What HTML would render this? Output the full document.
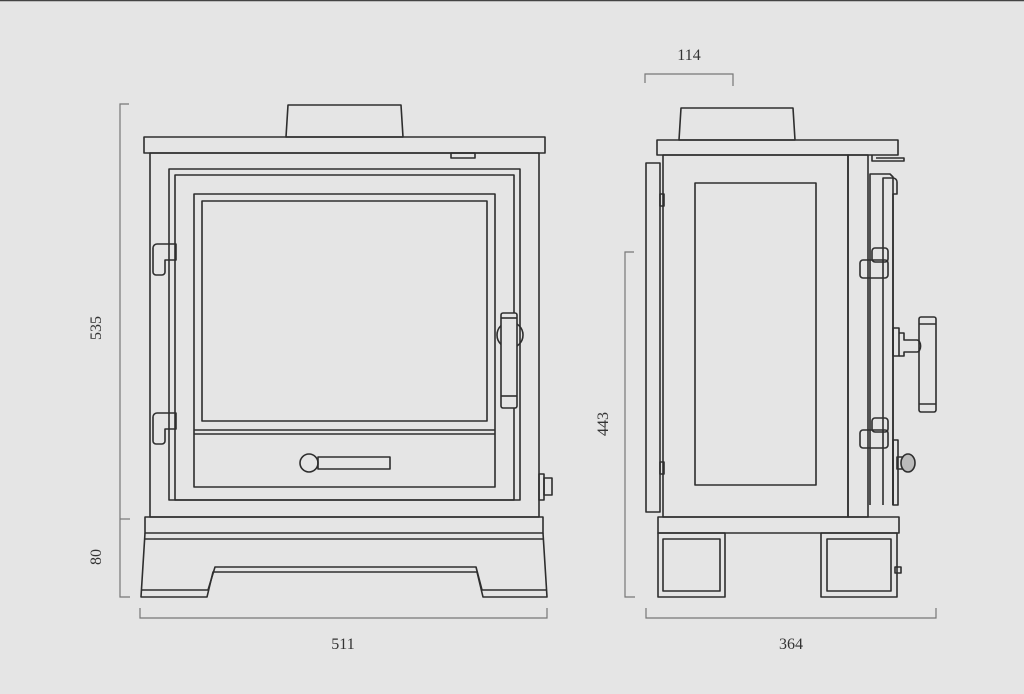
<!DOCTYPE html>
<html><head><style>
html,body{margin:0;padding:0;background:#e5e5e5;}
svg{display:block}
text{font-family:"Liberation Serif",serif;font-size:16px;fill:#333}
</style></head><body>
<svg width="1024" height="694" viewBox="0 0 1024 694" xmlns="http://www.w3.org/2000/svg">
<rect width="1024" height="694" fill="#e5e5e5"/>
<line x1="0" y1="0.5" x2="1024" y2="0.5" stroke="#444" stroke-width="1.5"/>
<g fill="none" stroke="#777" stroke-width="1.2">
<polyline points="129,104 120,104 120,597 130,597"/>
<line x1="120" y1="519" x2="130" y2="519"/>
<polyline points="140,608 140,618 547,618 547,608"/>
<polyline points="645,83 645,74 733,74 733,86"/>
<polyline points="634,252 625,252 625,597 635,597"/>
<polyline points="646,608 646,618 936,618 936,608"/>
</g>
<text x="343" y="649" text-anchor="middle">511</text>
<text x="689" y="60" text-anchor="middle">114</text>
<text x="791" y="649" text-anchor="middle">364</text>
<text transform="translate(101,328) rotate(-90)" text-anchor="middle">535</text>
<text transform="translate(101,557) rotate(-90)" text-anchor="middle">80</text>
<text transform="translate(608,424) rotate(-90)" text-anchor="middle">443</text>

<g fill="none" stroke="#2e2e2e" stroke-width="1.6" stroke-linejoin="round">
<!-- FRONT -->
<polygon points="288,105 401,105 403,137 286,137"/>
<rect x="144" y="137" width="401" height="16"/>
<rect x="451" y="153" width="24" height="5"/>
<rect x="150" y="153" width="389" height="364"/>
<rect x="169" y="169" width="351" height="331"/>
<rect x="175" y="175" width="339" height="325"/>
<rect x="194" y="194" width="301" height="293"/>
<rect x="202" y="201" width="285" height="220"/>
<line x1="194" y1="430" x2="495" y2="430"/>
<line x1="194" y1="434" x2="495" y2="434"/>
<circle cx="309" cy="463" r="9"/>
<rect x="318" y="457" width="72" height="12"/>
<path d="M176,244 H157 a4,4 0 0 0 -4,4 V272 a3,3 0 0 0 3,3 h6 a3,3 0 0 0 3,-3 V260 H176 Z"/>
<path d="M176,413 H157 a4,4 0 0 0 -4,4 V441 a3,3 0 0 0 3,3 h6 a3,3 0 0 0 3,-3 V429 H176 Z"/>
<circle cx="510" cy="335" r="13"/>
<rect x="501" y="313" width="16" height="95" rx="2" fill="#e5e5e5"/>
<line x1="501" y1="318" x2="517" y2="318"/>
<line x1="501" y1="396" x2="517" y2="396"/>
<rect x="539" y="474" width="5" height="26"/>
<rect x="544" y="478" width="8" height="17"/>
<rect x="145" y="517" width="398" height="16"/>
<line x1="145" y1="539" x2="543" y2="539"/>
<path d="M145,533 L141,597 H207 L213,572 H477 L483,597 H547 L543,533"/>
<path d="M141,590 H208 L215,567 H476 L482,590 H547"/>

<!-- SIDE -->
<polygon points="681,108 793,108 795,140 679,140"/>
<rect x="657" y="140" width="241" height="15"/>
<rect x="663" y="155" width="185" height="362"/>
<rect x="848" y="155" width="20" height="362"/>
<rect x="695" y="183" width="121" height="302"/>
<rect x="646" y="163" width="14" height="349"/>
<rect x="660" y="194" width="4" height="12"/>
<rect x="660" y="462" width="4" height="12"/>
<path d="M872,155 V161 H904 V158 H876"/>
<path d="M870,505 V174 H890 L893,177 V505"/>
<path d="M883,505 V178 H893 a4,4 0 0 1 4,4 V194 H893 V505"/>
<rect x="860" y="260" width="28" height="18" rx="3"/>
<rect x="872" y="248" width="16" height="14" rx="3"/>
<rect x="860" y="430" width="28" height="18" rx="3"/>
<rect x="872" y="418" width="16" height="14" rx="3"/>
<rect x="893" y="328" width="6" height="28"/>
<path d="M899,333 H904 V340 H917 a3,5 0 0 1 0,12 H904 V356 H899"/>
<rect x="919" y="317" width="17" height="95" rx="2"/>
<line x1="919" y1="324" x2="936" y2="324"/>
<line x1="919" y1="404" x2="936" y2="404"/>
<rect x="893" y="440" width="5" height="65"/>
<rect x="897" y="457" width="6" height="12"/>
<ellipse cx="908" cy="463" rx="7" ry="9" fill="#bbb"/>
<rect x="658" y="517" width="241" height="16"/>
<rect x="658" y="533" width="67" height="64"/>
<rect x="663" y="539" width="57" height="52"/>
<rect x="821" y="533" width="76" height="64"/>
<rect x="827" y="539" width="64" height="52"/>
<rect x="895" y="567" width="6" height="6"/>
</g>
</svg>
</body></html>
